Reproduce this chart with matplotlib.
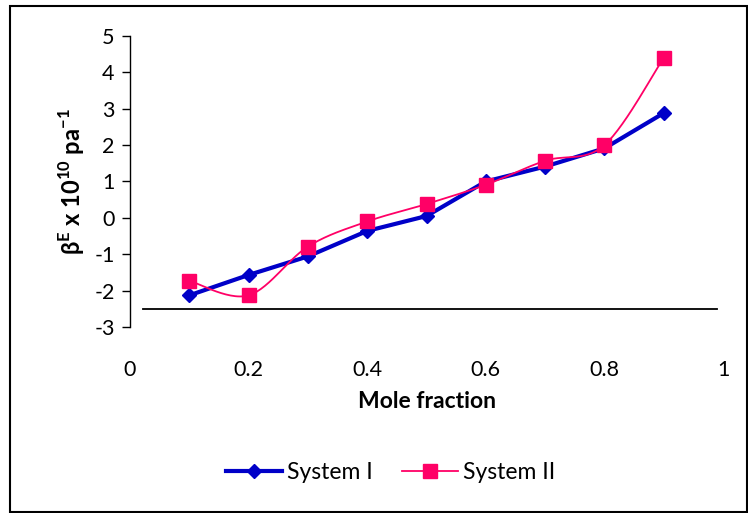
import numpy as np
import matplotlib
matplotlib.use('Agg')
import matplotlib.pyplot as plt
from matplotlib.patches import Rectangle

plt.rcParams['font.family'] = ['Lato', 'DejaVu Sans']
plt.rcParams['mathtext.fontset'] = 'custom'
plt.rcParams['mathtext.rm'] = 'Lato'
plt.rcParams['mathtext.bf'] = 'Lato:bold'
plt.rcParams['axes.unicode_minus'] = False

# data
mole_fraction = [0.1, 0.2, 0.3, 0.4, 0.5, 0.6, 0.7, 0.8, 0.9]
system_1 = [-2.13, -1.57, -1.06, -0.36, 0.05, 1.00, 1.41, 1.91, 2.88]
system_2 = [-1.73, -2.13, -0.79, -0.10, 0.38, 0.91, 1.57, 2.00, 4.40]
x_ticks = [0, 0.2, 0.4, 0.6, 0.8, 1]
y_ticks = [-3, -2, -1, 0, 1, 2, 3, 4, 5]


def smooth(xs, ys, n=30):
    # Catmull-Rom curve through the points, like Excel's smoothed line
    p = np.column_stack([xs, ys])
    p = np.vstack([p[0], p, p[-1]])
    out = []
    t = np.linspace(0, 1, n)[:, None]
    for i in range(1, len(p) - 2):
        p0, p1, p2, p3 = p[i - 1], p[i], p[i + 1], p[i + 2]
        seg = 0.5 * ((2 * p1) + (-p0 + p2) * t
                     + (2 * p0 - 5 * p1 + 4 * p2 - p3) * t ** 2
                     + (-p0 + 3 * p1 - 3 * p2 + p3) * t ** 3)
        out.append(seg)
    out = np.vstack(out)
    return out[:, 0], out[:, 1]


fig = plt.figure(figsize=(7.48, 5.13), dpi=100)
ax = fig.add_axes([0.1738, 0.3626, 0.7928, 0.5673])

blue = '#0000C8'
pink = '#FF0066'

ax.plot(mole_fraction, system_1, color=blue, lw=3, marker='D', ms=7,
        label='System I', zorder=3)
sx, sy = smooth(mole_fraction, system_2)
ax.plot(sx, sy, color=pink, lw=1.3, zorder=4)
ax.plot(mole_fraction, system_2, color=pink, lw=0, marker='s', ms=10,
        zorder=5)
# legend handle for system II
ax.plot([], [], color=pink, lw=1.3, marker='s', ms=10, label='System II')

ax.axhline(-2.5, xmin=0.022, xmax=0.99, color='black', lw=1.3)

ax.set_xlim(0, 1)
ax.set_ylim(-3, 5)
ax.set_xticks(x_ticks)
ax.set_xticklabels(['0', '0.2', '0.4', '0.6', '0.8', '1'])
ax.set_yticks(y_ticks)
ax.tick_params(axis='x', length=0, pad=24, labelsize=15.5)
ax.tick_params(axis='y', direction='out', length=6, width=1, labelsize=15.5, pad=5)
for s in ['top', 'right', 'bottom']:
    ax.spines[s].set_visible(False)
ax.spines['left'].set_linewidth(1)

ax.set_xlabel('Mole fraction', fontsize=16.5, fontweight='bold', labelpad=8)
ax.set_ylabel(r'β$^{\mathbf{E}}$ x 10$^{\mathbf{10}}$ pa$^{\mathbf{-1}}$',
              fontsize=17, fontweight='bold', labelpad=5)

fig.legend(loc='center', bbox_to_anchor=(0.522, 0.078), ncol=2, frameon=False,
           fontsize=16.5, handlelength=2.45, handletextpad=0.2, columnspacing=1.3)

fig.patches.append(Rectangle((0.014, 0.002), 0.984, 0.986, transform=fig.transFigure,
                             fill=False, edgecolor='black', lw=1.5))

fig.savefig('out.png', dpi=100)
